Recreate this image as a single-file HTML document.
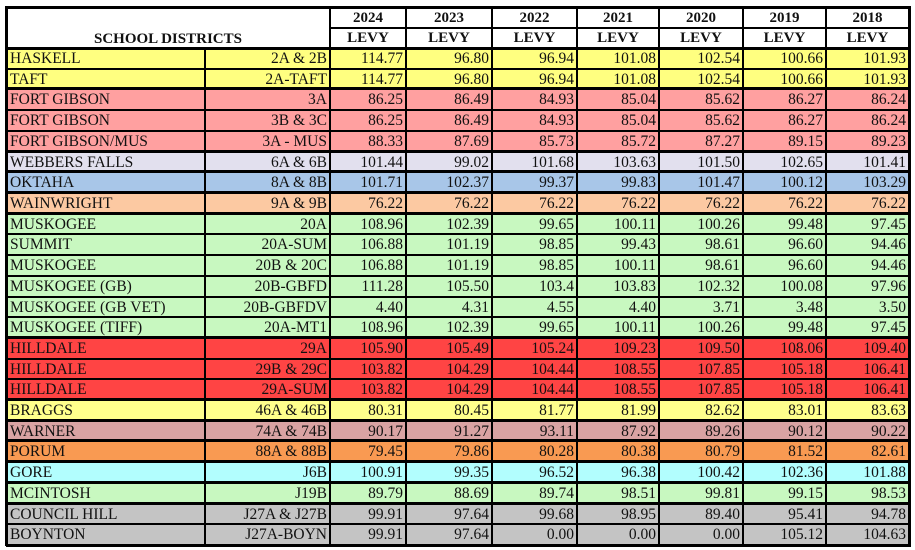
<!DOCTYPE html>
<html><head><meta charset="utf-8"><style>
body{margin:0;background:#fff;width:915px;height:550px;overflow:hidden;position:relative;font-family:"Liberation Serif",serif;}
.c{position:absolute;box-sizing:border-box;font-size:15.5px;line-height:20px;white-space:nowrap;color:#111;overflow:hidden}
.r{text-align:right;padding-right:3px}
.l{text-align:left;padding-left:4px}
.h{font-weight:bold;text-align:center;font-size:15px}
.ln{position:absolute;background:#000}
</style></head><body>
<div id="t"></div>
<script>
const cols=[6,205,330,406,492,577,659,743,826,909];
const years=["2024","2023","2022","2021","2020","2019","2018"];
const names=["HASKELL","TAFT","FORT GIBSON","FORT GIBSON","FORT GIBSON/MUS","WEBBERS FALLS","OKTAHA","WAINWRIGHT","MUSKOGEE","SUMMIT","MUSKOGEE","MUSKOGEE (GB)","MUSKOGEE (GB VET)","MUSKOGEE (TIFF)","HILLDALE","HILLDALE","HILLDALE","BRAGGS","WARNER","PORUM","GORE","MCINTOSH","COUNCIL HILL","BOYNTON"];
const codes=["2A & 2B","2A-TAFT","3A","3B & 3C","3A - MUS","6A & 6B","8A & 8B","9A & 9B","20A","20A-SUM","20B & 20C","20B-GBFD","20B-GBFDV","20A-MT1","29A","29B & 29C","29A-SUM","46A & 46B","74A & 74B","88A & 88B","J6B","J19B","J27A & J27B","J27A-BOYN"];
const vals=[
["114.77","96.80","96.94","101.08","102.54","100.66","101.93"],
["114.77","96.80","96.94","101.08","102.54","100.66","101.93"],
["86.25","86.49","84.93","85.04","85.62","86.27","86.24"],
["86.25","86.49","84.93","85.04","85.62","86.27","86.24"],
["88.33","87.69","85.73","85.72","87.27","89.15","89.23"],
["101.44","99.02","101.68","103.63","101.50","102.65","101.41"],
["101.71","102.37","99.37","99.83","101.47","100.12","103.29"],
["76.22","76.22","76.22","76.22","76.22","76.22","76.22"],
["108.96","102.39","99.65","100.11","100.26","99.48","97.45"],
["106.88","101.19","98.85","99.43","98.61","96.60","94.46"],
["106.88","101.19","98.85","100.11","98.61","96.60","94.46"],
["111.28","105.50","103.4","103.83","102.32","100.08","97.96"],
["4.40","4.31","4.55","4.40","3.71","3.48","3.50"],
["108.96","102.39","99.65","100.11","100.26","99.48","97.45"],
["105.90","105.49","105.24","109.23","109.50","108.06","109.40"],
["103.82","104.29","104.44","108.55","107.85","105.18","106.41"],
["103.82","104.29","104.44","108.55","107.85","105.18","106.41"],
["80.31","80.45","81.77","81.99","82.62","83.01","83.63"],
["90.17","91.27","93.11","87.92","89.26","90.12","90.22"],
["79.45","79.86","80.28","80.38","80.79","81.52","82.61"],
["100.91","99.35","96.52","96.38","100.42","102.36","101.88"],
["89.79","88.69","89.74","98.51","99.81","99.15","98.53"],
["99.91","97.64","99.68","98.95","89.40","95.41","94.78"],
["99.91","97.64","0.00","0.00","0.00","105.12","104.63"]];
const groups=[0,0,1,1,1,2,3,4,5,5,5,5,5,5,6,6,6,7,8,9,10,11,12,12];
const gcol=["#ffff80","#ffa0a0","#e2e0ee","#a8c6e8","#fcc9a2","#c8f8c0","#ff4444","#ffff8c","#d9a3a3","#f99a52","#b2fefe","#c8f8c0","#c4c4c4"];
const T=document.getElementById('t');
function cell(x,y,w,h,txt,cls,name,inter){const d=document.createElement('div');d.className='c '+cls;d.style.left=x+'px';d.style.top=y+'px';d.style.width=w+'px';d.style.height=h+'px';if(inter)d.style.background=inter;d.textContent=txt;


T.appendChild(d);return d;}
function line(x,y,w,h){const d=document.createElement('div');d.className='ln';d.style.left=x+'px';d.style.top=y+'px';d.style.width=w+'px';d.style.height=h+'px';


T.appendChild(d);}
const top0=8,hmid=28,hbot=48,bot=545,rh=(bot-hbot)/names.length;
const sd=cell(cols[0],top0,cols[2]-cols[0],hbot-top0,"SCHOOL DISTRICTS","h","school-districts-header");
sd.style.paddingTop='22px';sd.style.lineHeight='18px';
years.forEach((y,i)=>{const x=cols[i+3-0];
cell(cols[i+2],top0,cols[i+3]-cols[i+2],hmid-top0,y,"h","year-header-"+y);
cell(cols[i+2],hmid,cols[i+3]-cols[i+2],hbot-hmid,"LEVY","h","levy-header-"+y);});
names.forEach((n,i)=>{const y=hbot+i*rh;const bg=gcol[groups[i]];
cell(cols[0],y,cols[1]-cols[0],rh,n,"l","district-name",bg).style.paddingTop='1px';
cell(cols[1],y,cols[2]-cols[1],rh,codes[i],"r","district-code",bg).style.paddingTop='1px';
vals[i].forEach((v,j)=>{cell(cols[j+2],y,cols[j+3]-cols[j+2],rh,v,"r","levy-value-"+years[j],bg).style.paddingTop='1px';});});
// horizontal lines
line(cols[0],top0-2,cols[9]-cols[0]+2,3);
line(cols[2],hmid-1,cols[9]-cols[2],2);
line(cols[0],hbot-1,cols[9]-cols[0]+2,3);
for(let i=1;i<names.length;i++){const y=hbot+i*rh;const thick=groups[i]!==groups[i-1];line(cols[0],Math.round(y)-(thick?2:1),cols[9]-cols[0]+2,thick?3:2);}
line(cols[0],bot-1,cols[9]-cols[0]+2,3);
// vertical lines
cols.forEach((x,k)=>{const outer=(k===0||k===9);line(x-1,k===1?hbot:top0-2,outer?3:2,bot-(k===1?hbot:top0-2)+1);});
</script>
</body></html>
